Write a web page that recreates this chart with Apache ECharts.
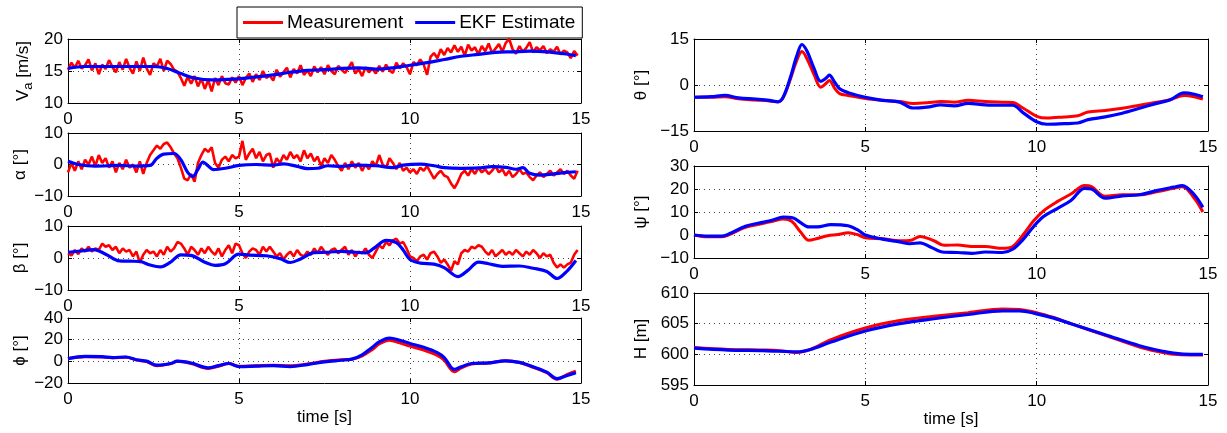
<!DOCTYPE html>
<html>
<head>
<meta charset="utf-8">
<title>EKF state estimation</title>
<script src="https://cdn.jsdelivr.net/npm/echarts@6/dist/echarts.min.js"></script>
<style>
  html, body { margin: 0; padding: 0; background: #fff; }
  #chart { width: 1227px; height: 433px; }
</style>
</head>
<body>
<div id="chart"></div>
<script>
// ---- time grid of the raw (noisy) sensor channels, 10 Hz ----
const tRaw = Array.from({ length: 150 }, (_, i) => Math.round(i) / 10);

// ---- airspeed Va [m/s] ----
const vaMeas = [
  15.2, 16.3, 15.5, 16.6, 15.4, 15.9, 16.8, 15.1, 16.2, 14.5,
  16.0, 15.3, 16.7, 15.6, 14.8, 16.4, 15.2, 16.9, 15.5, 14.6,
  16.5, 15.0, 17.1, 15.4, 14.4, 16.2, 15.7, 16.9, 15.0, 16.6,
  16.1, 15.2, 14.9, 13.9, 12.7, 14.1, 13.0, 14.2, 12.6, 13.8,
  12.2, 13.6, 11.8, 13.9, 12.8, 14.2, 13.1, 12.9, 14.0, 13.2,
  14.2, 12.8, 13.9, 14.6, 13.3, 14.5, 13.6, 15.0, 13.9, 14.3,
  13.5, 15.2, 14.1, 14.8, 15.5, 14.0, 15.3, 14.6, 15.9, 14.4,
  15.1, 14.2, 15.7, 14.8, 15.6, 14.5, 15.9, 15.0, 14.5, 15.8,
  15.2, 14.7, 15.5, 16.4, 14.6, 15.3, 14.2, 15.6, 14.8, 15.4,
  14.6, 15.8, 14.9, 16.0, 15.1, 14.7, 16.3, 15.4, 16.2, 15.6,
  14.5, 16.4, 15.9, 16.8, 16.0, 14.4, 17.2, 17.8, 17.0, 18.4,
  17.5, 18.6, 17.9, 19.0, 18.0, 18.8, 17.4, 19.1, 18.2, 18.7,
  17.6, 18.9, 18.1, 19.3, 17.8, 18.5, 19.2, 18.0, 19.4, 20.0,
  18.4, 17.7, 18.9, 18.0, 18.6, 19.5, 17.9, 18.7, 18.2, 18.9,
  17.8, 18.4, 18.0, 18.8, 17.6, 18.2, 17.9, 17.0, 18.1, 17.4
];
const vaEkf = [
  [0, 15.4], [0.5, 15.7], [1.5, 15.7], [2.5, 15.7], [2.9, 15.4], [3.3, 14.6],
  [3.7, 13.9], [4.2, 13.6], [4.7, 13.7], [5.2, 13.9], [6.0, 14.4], [6.5, 14.8],
  [7.0, 15.1], [7.5, 15.2], [8.0, 15.4], [8.5, 15.5], [9.0, 15.3], [9.5, 15.5],
  [10.0, 15.9], [10.5, 16.3], [11.0, 16.8], [11.5, 17.3], [12.0, 17.6], [12.5, 17.9],
  [13.0, 18.0], [13.5, 18.1], [14.0, 18.0], [14.5, 17.7], [14.85, 17.4]
];

// ---- angle of attack alpha [deg] ----
const alphaMeas = [
  -2.5, 0.5, -2.0, 1.0, -1.5, 1.5, 0.0, 2.5, -0.5, 3.0,
  0.5, 2.0, -1.0, 1.0, -2.5, 0.5, -1.5, 1.5, -1.0, 0.0,
  -2.5, 1.0, -3.0, 0.5, 3.0, 4.5, 6.0, 5.0, 6.5, 7.0,
  5.5, 3.5, 2.0, -1.0, -4.5, -5.0, -3.0, -5.5, 0.5, 3.0,
  5.0, 4.0, 5.5, 0.5, -1.0, 1.5, 2.5, 1.0, 3.0, 2.0,
  2.5, 7.5, 1.5, 3.5, 5.0, 2.0, 4.0, 1.0, 3.0, 3.5,
  -1.0, 2.0, 0.5, 3.0, 1.5, 4.0, 2.0, 3.0, 1.0, 4.5,
  2.0, 3.5, 1.0, 2.5, -0.5, 2.0, 0.5, 3.0, 1.5, -0.5,
  -2.0, 0.5, -1.5, 1.0, -1.0, 0.5, -2.0, 0.0, -1.5, 1.0,
  -0.5, 3.0, 0.0, -1.0, 2.0, 0.5, -1.5, 0.5, -2.0, -1.0,
  -2.5, -1.5, -3.0, -1.0, -2.0, -0.5, -2.5, -4.5, -3.0, -2.0,
  -3.5, -4.0, -6.0, -7.5, -5.5, -3.0, -2.0, -3.5, -1.5, -3.0,
  -1.0, -2.5, -1.5, -3.0, -2.0, -0.5, -2.5, -1.5, -3.5, -2.0,
  -4.0, -3.0, -1.5, -3.0, -2.5, -4.0, -5.0, -3.5, -2.5, -4.0,
  -3.0, -2.0, -3.5, -2.5, -1.5, -3.0, -2.0, -3.5, -4.5, -2.0
];
const alphaEkf = [
  [0, 1.0], [0.3, 0.0], [0.8, -0.5], [1.5, -0.3], [2.0, -0.5], [2.4, -0.3],
  [2.6, 2.0], [2.8, 3.3], [3.1, 3.5], [3.3, 1.5], [3.5, -2.5], [3.65, -3.8],
  [3.8, -1.5], [3.95, 0.8], [4.1, -0.5], [4.25, -1.6], [4.6, -1.2], [5.0, -0.3],
  [5.5, 0.0], [6.0, -0.2], [6.3, 0.2], [6.7, -0.6], [7.0, -1.3], [7.3, -1.2],
  [7.6, -0.4], [8.0, -0.6], [8.4, -0.2], [9.0, -0.4], [9.5, -1.0], [9.8, -0.2],
  [10.3, 0.1], [10.7, -0.4], [11.0, -1.0], [11.5, -1.2], [12.0, -1.1], [12.4, -0.7],
  [12.8, -0.9], [13.1, -1.5], [13.3, -1.0], [13.5, -2.8], [13.8, -3.4], [14.2, -3.0],
  [14.5, -2.6], [14.85, -2.3]
];

// ---- sideslip beta [deg] ----
const betaMeas = [
  1.5, 0.8, 2.5, 1.2, 3.0, 2.0, 3.5, 2.0, 3.0, 2.5,
  4.5, 3.5, 4.0, 2.5, 3.5, 1.5, 3.0, 2.0, 2.5, 0.5,
  2.0, -1.5, 1.0, 2.5, 1.5, 2.0, 0.5, 2.5, 1.0, 3.5,
  2.0, 3.0, 5.0, 4.5, 3.0, 1.0, 3.5, 2.5, 1.0, 3.0,
  1.5, 3.5, 2.0, 1.0, 3.0, 0.5, 2.5, 4.0, 1.5, 4.5,
  4.0, 1.5, 0.0, 2.0, 3.0, 2.5, 1.0, 3.5, 2.0, 3.5,
  2.0, 0.5, 1.5, -0.5, 1.0, 2.0, 0.5, 2.5, 1.0, 0.5,
  2.0, 1.0, 3.0, 1.5, 3.5, 2.0, 1.0, 2.5, 3.0, 1.5,
  2.5, 3.5, 1.0, 2.5, 0.5, 2.0, 1.5, 3.0, 1.0, 0.0,
  2.0, 4.0, 3.0, 5.0, 4.0, 5.5, 6.0, 4.5, 5.0, 3.0,
  0.5, 0.0, -1.0, 0.5, 1.0, -0.5, 1.5, 2.0, 0.5, -1.5,
  -0.5, -2.0, -4.0, -1.0, -2.0, 1.5, 2.5, 2.0, 3.5, 3.0,
  4.0, 3.5, 2.0, 1.0, 2.5, 0.5, 1.5, 2.5, 1.0, 2.0,
  1.0, 2.5, 1.5, 0.5, 2.0, 1.0, 2.5, 1.5, 0.0, 1.5,
  0.5, 1.0, -1.5, -3.0, -2.0, -3.0, -2.0, -1.5, 1.0, 2.5
];
const betaEkf = [
  [0, 1.8], [0.4, 2.2], [0.75, 2.6], [1.1, 1.2], [1.5, -0.9], [1.8, -1.0],
  [2.1, -1.1], [2.4, -2.2], [2.7, -2.8], [3.0, -1.3], [3.3, 1.0], [3.6, 0.8],
  [4.0, -1.3], [4.3, -2.3], [4.6, -1.8], [5.0, 1.2], [5.3, 0.9], [5.8, 0.7],
  [6.2, -0.2], [6.5, -1.4], [6.8, -0.3], [7.2, 1.7], [7.6, 1.8], [8.0, 2.1],
  [8.4, 1.8], [8.7, 1.6], [9.0, 3.5], [9.3, 5.5], [9.6, 4.8], [9.8, 2.5],
  [10.0, -0.5], [10.3, -1.6], [10.7, -1.9], [11.0, -3.0], [11.4, -5.8], [11.7, -3.8],
  [12.0, -1.3], [12.3, -1.8], [12.7, -2.6], [13.2, -2.5], [13.6, -3.2], [14.0, -4.2],
  [14.3, -6.4], [14.6, -4.0], [14.85, -0.8]
];

// ---- roll phi [deg] ----
const phiMeas = [
  [0, 2.5], [0.5, 4.3], [1.0, 4.0], [1.3, 3.3], [1.7, 3.8], [2.0, 1.2], [2.3, -0.3],
  [2.6, -4.0], [3.0, -2.2], [3.2, 0.0], [3.6, -2.0], [4.1, -6.5], [4.4, -4.5], [4.7, -2.0],
  [5.0, -4.5], [5.5, -4.0], [6.0, -3.5], [6.5, -4.0], [7.0, -2.5], [7.5, 0.0], [8.0, 1.5],
  [8.3, 2.0], [8.6, 5.0], [8.9, 11.0], [9.1, 16.0], [9.4, 19.5], [9.7, 17.0], [10.0, 14.0],
  [10.4, 10.5], [10.8, 5.5], [11.0, 1.0], [11.3, -9.5], [11.5, -6.0], [11.8, -2.5],
  [12.3, -1.5], [12.8, 0.5], [13.2, -1.0], [13.6, -5.5], [14.0, -10.5], [14.3, -16.5],
  [14.6, -12.0], [14.85, -9.0]
];
const phiEkf = [
  [0, 2.5], [0.5, 4.5], [1.0, 4.3], [1.3, 3.5], [1.7, 4.0], [2.0, 1.5], [2.3, 0.2],
  [2.6, -3.5], [3.0, -2.0], [3.2, 0.2], [3.6, -1.5], [4.1, -6.0], [4.4, -4.0], [4.7, -2.0],
  [5.0, -5.0], [5.5, -4.5], [6.0, -4.0], [6.5, -4.8], [7.0, -3.0], [7.5, -0.5], [8.0, 1.0],
  [8.3, 2.0], [8.6, 6.0], [8.9, 13.0], [9.1, 18.0], [9.4, 21.5], [9.7, 19.5], [10.0, 16.5],
  [10.4, 13.0], [10.8, 8.0], [11.0, 3.5], [11.3, -7.5], [11.5, -5.0], [11.8, -2.0],
  [12.3, -1.5], [12.8, 0.5], [13.2, -1.0], [13.6, -5.0], [14.0, -10.0], [14.3, -16.0],
  [14.6, -13.0], [14.85, -10.5]
];

// ---- pitch theta [deg] ----
const thetaMeas = [
  [0, -4.0], [0.5, -4.0], [0.9, -3.8], [1.3, -4.5], [1.8, -4.9], [2.2, -5.2], [2.45, -5.5],
  [2.6, -4.2], [2.8, 1.5], [3.0, 8.0], [3.15, 10.9], [3.3, 8.5], [3.5, 3.5], [3.7, -0.7],
  [3.85, 0.5], [3.95, 1.5], [4.1, -1.0], [4.25, -2.8], [4.5, -3.4], [5.0, -4.4], [5.5, -5.0],
  [6.0, -5.4], [6.4, -6.0], [6.8, -5.8], [7.2, -5.4], [7.6, -5.6], [8.0, -5.0], [8.5, -5.4],
  [9.0, -5.6], [9.3, -5.7], [9.6, -7.5], [10.0, -10.2], [10.3, -10.8], [10.8, -10.4],
  [11.2, -10.0], [11.5, -8.8], [12.0, -8.3], [12.5, -7.6], [13.0, -6.6], [13.5, -5.6],
  [13.9, -4.8], [14.3, -3.4], [14.6, -3.8], [14.85, -4.6]
];
const thetaEkf = [
  [0, -4.0], [0.5, -3.8], [0.9, -3.4], [1.3, -4.2], [1.8, -4.6], [2.2, -5.0], [2.45, -5.5],
  [2.6, -4.0], [2.8, 2.0], [3.0, 9.5], [3.15, 13.2], [3.3, 11.0], [3.5, 5.5], [3.7, 1.2],
  [3.85, 2.2], [3.95, 3.2], [4.1, 1.0], [4.25, -1.2], [4.5, -2.5], [5.0, -4.0], [5.5, -5.0],
  [6.0, -5.6], [6.4, -7.5], [6.8, -7.2], [7.2, -6.5], [7.6, -6.8], [8.0, -6.0], [8.5, -6.5],
  [9.0, -6.6], [9.3, -6.6], [9.6, -9.0], [10.0, -12.0], [10.3, -12.8], [10.8, -12.6],
  [11.2, -12.4], [11.5, -11.3], [12.0, -10.4], [12.5, -9.2], [13.0, -7.6], [13.5, -6.0],
  [13.9, -4.8], [14.3, -2.6], [14.6, -3.0], [14.85, -3.8]
];

// ---- yaw psi [deg] ----
const psiMeas = [
  [0, 0.0], [0.4, -0.8], [0.8, -0.8], [1.0, 0.0], [1.5, 3.3], [2.0, 5.0], [2.3, 6.0],
  [2.6, 7.0], [2.85, 6.0], [3.1, 1.5], [3.35, -2.3], [3.6, -1.5], [3.9, -0.3], [4.2, 0.2],
  [4.5, 1.0], [4.8, 0.0], [5.0, -1.2], [5.5, -1.6], [6.0, -2.5], [6.3, -2.4], [6.6, -0.6],
  [7.0, -2.5], [7.3, -4.5], [7.7, -4.3], [8.1, -5.0], [8.5, -5.0], [9.0, -5.8], [9.3, -5.0],
  [9.6, 0.0], [9.9, 6.0], [10.2, 10.5], [10.6, 14.5], [11.0, 17.8], [11.4, 21.5],
  [11.6, 21.0], [12.0, 16.8], [12.5, 17.5], [13.0, 17.5], [13.5, 18.8], [14.0, 20.3],
  [14.25, 21.0], [14.6, 16.0], [14.85, 10.0]
];
const psiEkf = [
  [0, 0.0], [0.4, -0.5], [0.8, -0.5], [1.0, 0.3], [1.5, 3.8], [2.0, 5.5], [2.3, 6.5],
  [2.6, 7.8], [2.9, 7.4], [3.1, 5.5], [3.35, 3.5], [3.6, 3.5], [4.0, 4.5], [4.5, 4.0],
  [4.8, 2.0], [5.0, 0.0], [5.5, -1.8], [6.0, -3.0], [6.3, -3.8], [6.6, -3.4], [6.9, -5.2],
  [7.3, -7.5], [7.7, -7.6], [8.1, -8.0], [8.5, -7.4], [9.0, -7.6], [9.3, -6.2], [9.6, -2.0],
  [9.9, 3.5], [10.2, 8.0], [10.6, 11.5], [11.0, 15.0], [11.4, 20.3], [11.6, 20.0],
  [12.0, 16.0], [12.5, 17.0], [13.0, 17.5], [13.5, 19.3], [14.0, 20.8], [14.25, 21.5],
  [14.6, 17.5], [14.85, 12.0]
];

// ---- altitude H [m] ----
const hMeas = [
  [0, 601.1], [1, 600.8], [2, 600.7], [2.5, 600.6], [3.0, 600.3], [3.4, 600.8], [4.0, 602.4],
  [5.0, 604.3], [6.0, 605.5], [7.0, 606.2], [8.0, 606.8], [9.0, 607.4], [9.5, 607.3],
  [10.0, 606.8], [10.5, 606.0], [11.0, 605.0], [12.0, 603.1], [13.0, 601.2], [13.5, 600.5],
  [14.0, 600.0], [14.5, 599.9], [14.85, 599.9]
];
const hEkf = [
  [0, 601.0], [1, 600.7], [2, 600.6], [2.5, 600.5], [3.0, 600.4], [3.4, 600.8], [4.0, 602.0],
  [5.0, 603.8], [6.0, 605.0], [7.0, 605.8], [8.0, 606.5], [9.0, 607.1], [9.5, 607.1],
  [10.0, 606.6], [10.5, 605.9], [11.0, 605.0], [12.0, 603.2], [13.0, 601.4], [13.5, 600.7],
  [14.0, 600.2], [14.5, 600.0], [14.85, 600.0]
];

// ---- axis ticks ----
const timeTicks = [0, 5, 10, 15];
const vaTicks = [10, 15, 20];
const alphaTicks = [-10, 0, 10];
const betaTicks = [-10, 0, 10];
const phiTicks = [-20, 0, 20, 40];
const thetaTicks = [-15, 0, 15];
const psiTicks = [-10, 0, 10, 20, 30];
const hTicks = [595, 600, 605, 610];

const seriesNames = ['Measurement', 'EKF Estimate'];

const withTime = arr => arr.map((v, i) => [tRaw[i], v]);

const FONT = '"Liberation Sans", Arial, Helvetica, sans-serif';
const FS = 17;
const RED = '#ff0000';
const BLUE = '#0000ff';

const panels = [
  { name: '{v|V}{s|a}{v| [m/s]}', box: [68, 39, 513, 64], ticks: vaTicks, meas: withTime(vaMeas), ekf: vaEkf, smoothMeas: false, gap: 33 },
  { name: '\u03b1 [\u00b0]', box: [68, 133, 513, 63], ticks: alphaTicks, meas: withTime(alphaMeas), ekf: alphaEkf, smoothMeas: false, gap: 39 },
  { name: '\u03b2 [\u00b0]', box: [68, 226, 513, 64], ticks: betaTicks, meas: withTime(betaMeas), ekf: betaEkf, smoothMeas: false, gap: 39 },
  { name: '\u03d5 [\u00b0]', box: [68, 318, 513, 65], ticks: phiTicks, meas: phiMeas, ekf: phiEkf, smoothMeas: true, gap: 39, time: true },
  { name: '\u03b8 [\u00b0]', box: [694, 39, 514, 92], ticks: thetaTicks, meas: thetaMeas, ekf: thetaEkf, smoothMeas: true, gap: 44 },
  { name: '\u03c8 [\u00b0]', box: [694, 166, 514, 92], ticks: psiTicks, meas: psiMeas, ekf: psiEkf, smoothMeas: true, gap: 44 },
  { name: 'H [m]', box: [694, 293, 514, 92], ticks: hTicks, meas: hMeas, ekf: hEkf, smoothMeas: true, gap: 44, time: true }
];

const fmt = v => (v < 0 ? '\u2212' + Math.abs(v) : String(v));
const textBase = { color: '#000', fontFamily: FONT, fontSize: FS };
const gridLine = { show: true, lineStyle: { color: '#444', type: [1, 4], width: 1 } };
const edge = { show: true, onZero: false, lineStyle: { color: '#000', width: 1 } };
const tick = { show: true, inside: true, length: 4, lineStyle: { color: '#000', width: 1 } };

const grids = [], xAxes = [], yAxes = [], series = [];

panels.forEach((p, i) => {
  const [left, top, width, height] = p.box;
  grids.push({ left, top, width, height, containLabel: false });

  const tStep = timeTicks[1] - timeTicks[0];
  const tMin = timeTicks[0], tMax = timeTicks[timeTicks.length - 1];
  const yStep = p.ticks[1] - p.ticks[0];
  const yMin = p.ticks[0], yMax = p.ticks[p.ticks.length - 1];

  xAxes.push({
    type: 'value', gridIndex: i, position: 'bottom', min: tMin, max: tMax, interval: tStep,
    axisLine: edge, axisTick: tick, splitLine: gridLine,
    axisLabel: Object.assign({ margin: 8, formatter: fmt }, textBase),
    name: p.time ? 'time [s]' : '', nameLocation: 'middle', nameGap: 26,
    nameTextStyle: Object.assign({}, textBase)
  });
  xAxes.push({
    type: 'value', gridIndex: i, position: 'top', min: tMin, max: tMax, interval: tStep,
    axisLine: edge, axisTick: tick, splitLine: { show: false }, axisLabel: { show: false }
  });

  yAxes.push({
    type: 'value', gridIndex: i, position: 'left', min: yMin, max: yMax, interval: yStep,
    axisLine: edge, axisTick: tick, splitLine: gridLine,
    axisLabel: Object.assign({ margin: 5, formatter: fmt }, textBase),
    name: p.name, nameLocation: 'middle', nameRotate: 90, nameGap: p.gap,
    nameTextStyle: Object.assign({}, textBase, {
      rich: {
        v: { fontSize: FS, fontFamily: FONT, color: '#000', lineHeight: 24, verticalAlign: 'middle' },
        s: { fontSize: 13, fontFamily: FONT, color: '#000', lineHeight: 24, verticalAlign: 'bottom' }
      }
    })
  });
  yAxes.push({
    type: 'value', gridIndex: i, position: 'right', min: yMin, max: yMax, interval: yStep,
    axisLine: edge, axisTick: tick, splitLine: { show: false }, axisLabel: { show: false }
  });

  series.push({
    name: seriesNames[0], type: 'line', xAxisIndex: 2 * i, yAxisIndex: 2 * i,
    data: p.meas, showSymbol: false, symbol: 'none', smooth: p.smoothMeas ? 0.35 : false,
    lineStyle: { color: RED, width: p.smoothMeas ? 3 : 2.6 }, itemStyle: { color: RED },
    z: 2
  });
  series.push({
    name: seriesNames[1], type: 'line', xAxisIndex: 2 * i, yAxisIndex: 2 * i,
    data: p.ekf, showSymbol: false, symbol: 'none', smooth: 0.35,
    lineStyle: { color: BLUE, width: 3.2 }, itemStyle: { color: BLUE },
    z: 3
  });
});

const chart = echarts.init(document.getElementById('chart'), null, { renderer: 'canvas' });
chart.setOption({
  animation: false,
  backgroundColor: '#fff',
  grid: grids,
  xAxis: xAxes,
  yAxis: yAxes,
  series: series,
  legend: {
    data: seriesNames,
    left: 237, top: 7,
    padding: [6, 7, 6, 6],
    itemGap: 12, itemWidth: 40, itemHeight: 3, icon: 'rect',
    backgroundColor: '#fff', borderColor: '#000', borderWidth: 1,
    textStyle: { color: '#000', fontFamily: FONT, fontSize: 19, padding: [0, 0, 0, -1] }
  }
});
</script>
</body>
</html>
